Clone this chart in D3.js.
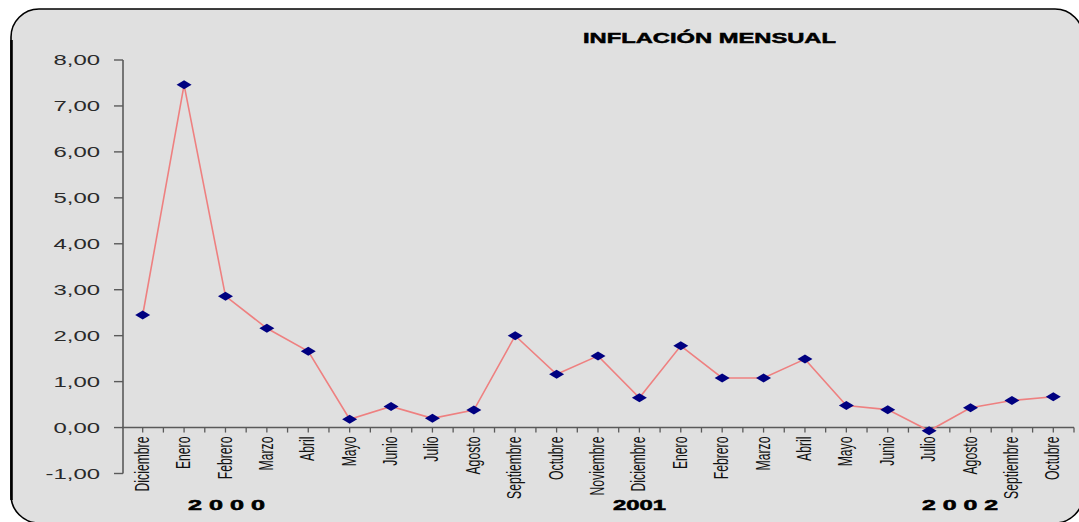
<!DOCTYPE html>
<html>
<head>
<meta charset="utf-8">
<script src="https://cdn.jsdelivr.net/npm/d3@7"></script>
<style>
  body { margin: 0; background: #fff; }
  svg { display: block; }
</style>
</head>
<body>
<svg id="chart" width="1079" height="522"></svg>
<script>
// datos
const months = ["Diciembre", "Enero", "Febrero", "Marzo", "Abril", "Mayo", "Junio", "Julio",
  "Agosto", "Septiembre", "Octubre", "Noviembre", "Diciembre", "Enero", "Febrero", "Marzo",
  "Abril", "Mayo", "Junio", "Julio", "Agosto", "Septiembre", "Octubre"];
const inflation = [2.45, 7.46, 2.86, 2.16, 1.66, 0.18, 0.46, 0.20, 0.38, 2.00, 1.16, 1.56,
  0.65, 1.78, 1.08, 1.08, 1.49, 0.48, 0.39, -0.07, 0.43, 0.59, 0.67];
const yTicks = [-1, 0, 1, 2, 3, 4, 5, 6, 7, 8];
const years = ["2 0 0 0", "2001", "2 0 0 2"];
const title = "INFLACIÓN MENSUAL";

const svg = d3.select("#chart");
const SX = 1.65; // el grafico original esta estirado a lo ancho

// marco redondeado
svg.append("rect")
  .attr("x", 11).attr("y", 9)
  .attr("width", 1072).attr("height", 514)
  .attr("rx", 28)
  .attr("fill", "#e0e0e0")
  .attr("stroke", "#000")
  .attr("stroke-width", 1.6);
svg.append("line")
  .attr("x1", 11.5).attr("x2", 11.5).attr("y1", 40).attr("y2", 500)
  .attr("stroke", "#000").attr("stroke-width", 2.6);

const x = d3.scaleBand()
  .domain(d3.range(months.length))
  .range([122, 1074]);
const cx = i => x(i) + x.bandwidth() / 2;

const y = d3.scaleLinear()
  .domain([-1, 8])
  .range([473.5, 60]);

// eje Y
const yAxis = svg.append("g").attr("transform", "translate(123,0)");
yAxis.append("line")
  .attr("y1", y(-1)).attr("y2", y(8))
  .attr("stroke", "#5a5a5a").attr("stroke-width", 1.6);
yAxis.selectAll(".tick")
  .data(yTicks)
  .join("line")
  .attr("x1", -9).attr("x2", 0)
  .attr("y1", d => y(d)).attr("y2", d => y(d))
  .attr("stroke", "#5a5a5a").attr("stroke-width", 1.4);
yAxis.selectAll("text")
  .data(yTicks)
  .join("text")
  .attr("transform", d => `translate(-23,${y(d)}) scale(${SX},1)`)
  .attr("dy", "0.36em")
  .attr("text-anchor", "end")
  .attr("font-family", "Liberation Sans, Arial, sans-serif")
  .attr("font-size", 14.5)
  .attr("fill", "#2a2a2a")
  .text(d => d3.format(".2f")(d).replace(".", ",").replace("\u2212", "-"));

// eje X en cero
const y0 = y(0);
svg.append("line")
  .attr("x1", 122).attr("x2", 1074)
  .attr("y1", y0).attr("y2", y0)
  .attr("stroke", "#5a5a5a").attr("stroke-width", 1.6);
const xTickPos = d3.range(months.length * 2 + 1).map(k => 122 + k * x.step() / 2);
svg.selectAll(".xtick")
  .data(xTickPos.slice(1))
  .join("line")
  .attr("x1", d => d).attr("x2", d => d)
  .attr("y1", y0).attr("y2", y0 + 5)
  .attr("stroke", "#5a5a5a").attr("stroke-width", 1.3);

svg.selectAll(".xlabel")
  .data(months)
  .join("text")
  .attr("transform", (d, i) => `translate(${cx(i) - 1},${y0 + 9}) scale(1.6,1) rotate(-90)`)
  .attr("dy", "0.36em")
  .attr("text-anchor", "end")
  .attr("font-family", "Liberation Sans Narrow, Arial Narrow, sans-serif")
  .attr("font-size", 12.2)
  .attr("fill", "#111")
  .text(d => d);

// anos
const yearPos = [[188, 265], [613, 666], [922, 998]];
svg.selectAll(".year")
  .data(years)
  .join("text")
  .attr("x", (d, i) => yearPos[i][0])
  .attr("y", 510)
  .attr("textLength", (d, i) => yearPos[i][1] - yearPos[i][0])
  .attr("lengthAdjust", "spacingAndGlyphs")
  .attr("font-family", "Liberation Sans, Arial, sans-serif")
  .attr("font-weight", "bold")
  .attr("font-size", 14)
  .attr("stroke", "#000").attr("stroke-width", 0.5)
  .attr("fill", "#000")
  .text(d => d);

// titulo
svg.append("text")
  .attr("x", 583).attr("y", 43)
  .attr("textLength", 253)
  .attr("lengthAdjust", "spacingAndGlyphs")
  .attr("font-family", "Liberation Sans, Arial, sans-serif")
  .attr("font-weight", "bold")
  .attr("font-size", 15)
  .attr("stroke", "#000").attr("stroke-width", 0.5)
  .attr("fill", "#000")
  .text(title);

// linea
const line = d3.line()
  .x((d, i) => cx(i))
  .y(d => y(d));
svg.append("path")
  .datum(inflation)
  .attr("d", line)
  .attr("fill", "none")
  .attr("stroke", "#ee8080")
  .attr("stroke-width", 1.6);

// marcadores rombo
svg.selectAll(".marker")
  .data(inflation)
  .join("path")
  .attr("d", (d, i) => {
    const px = cx(i), py = y(d);
    return `M${px - 7.5},${py}L${px},${py - 4.5}L${px + 7.5},${py}L${px},${py + 4.5}Z`;
  })
  .attr("fill", "#000080");
</script>
</body>
</html>
